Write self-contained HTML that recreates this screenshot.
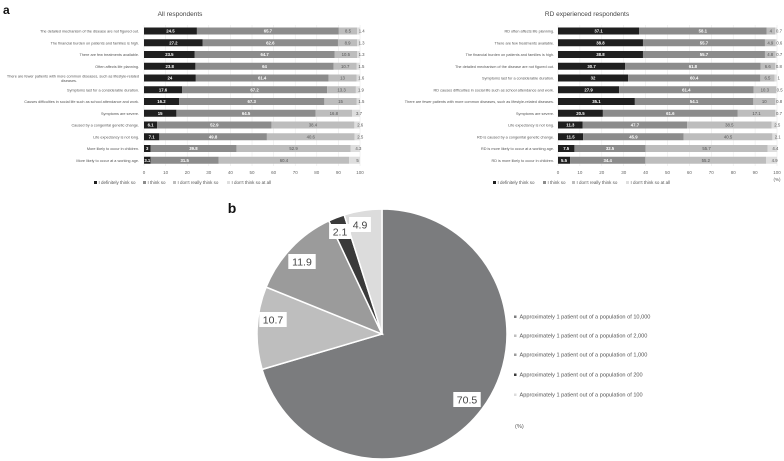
<!DOCTYPE html>
<html><head><meta charset="utf-8"><style>
html,body{margin:0;padding:0;background:#fff;}
svg{display:block;font-family:"Liberation Sans",sans-serif;}
</style></head><body>
<svg id="fig" width="784" height="461" viewBox="0 0 784 461">
<text x="3" y="14" font-size="12" font-weight="bold" fill="#111">a</text>
<text x="180" y="16" font-size="6.5" fill="#444" text-anchor="middle">All respondents</text>
<text x="587" y="16" font-size="6.5" fill="#444" text-anchor="middle">RD experienced respondents</text>
<text x="232" y="213" font-size="14" font-weight="bold" fill="#111" text-anchor="middle">b</text>
<g id="left"></g><g id="right"></g><g id="pie"></g>
</svg>
<script>
const NS="http://www.w3.org/2000/svg";
const leftCats=["The detailed mechanism of the disease are not figured out.","The financial burden on patients and families is high.","There are few treatments available.","Often affects life planning.","There are fewer patients with more common diseases, such as lifestyle-related|diseases.","Symptoms last for a considerable duration.","Causes difficulties in social life such as school attendance and work.","Symptoms are severe.","Caused by a congenital genetic change.","Life expectancy is not long.","More likely to occur in children.","More likely to occur at a working age."];
const leftDef=[24.5,27.2,23.5,23.8,24,17.6,16.2,15,6.1,7.1,3,3.1];
const leftThink=[65.7,62.6,64.7,64,61.4,67.2,67.3,64.5,52.9,49.8,39.8,31.5];
const leftNot=[8.5,8.9,10.5,10.7,13,13.3,15,16.8,38.4,40.6,52.9,60.4];
const leftNone=[1.4,1.3,1.3,1.5,1.6,1.9,1.5,3.7,2.6,2.5,4.3,5];
const rightCats=["RD often affects life planning.","There are few treatments available.","The financial burden on patients and families is high.","The detailed mechanism of the disease are not figured out.","Symptoms last for a considerable duration.","RD causes difficulties in social life such as school attendance and work.","There are fewer patients with more common diseases, such as lifestyle-related diseases.","Symptoms are severe.","Life expectancy is not long.","RD is caused by a congenital genetic change.","RD is more likely to occur at a working age.","RD is more likely to occur in children."];
const rightDef=[37.1,38.8,38.8,30.7,32.0,27.9,35.1,20.5,11.3,11.5,7.5,5.5];
const rightThink=[58.1,55.7,55.7,61.8,60.4,61.4,54.1,61.6,47.7,45.9,32.5,34.4];
const rightNot=[4.0,4.9,4.8,6.6,6.5,10.3,10.0,17.1,38.5,40.5,55.7,55.2];
const rightNone=[0.7,0.6,0.7,0.8,1.0,0.5,0.8,0.7,2.5,2.1,4.4,4.9];
const ticks=[0,10,20,30,40,50,60,70,80,90,100];
const legendLabels=["I definitely think so","I think so","I don't really think so","I don't think so at all"];
const pieLabels=["Approximately 1 patient out of a population of 10,000","Approximately 1 patient out of a population of 2,000","Approximately 1 patient out of a population of 1,000","Approximately 1 patient out of a population of 200","Approximately 1 patient out of a population of 100"];
const pieValues=[70.5,10.7,11.9,2.1,4.9];

const barColors=["#1f1f1f","#8c8c8c","#bdbdbd","#dedede"];
const textColors=["#fff","#fff","#555","#555"];
const pieColors=["#7b7c7e","#bebebe","#9b9b9b","#3a3a3a","#dcdcdc"];

function mk(tag,attrs,parent){const e=document.createElementNS(NS,tag);for(const k in attrs)e.setAttribute(k,attrs[k]);parent.appendChild(e);return e;}

function drawBars(g,cats,series,x0,x1,labelX,legendXs,name){
  const sx=v=>x0+(x1-x0)*v/100;
  const rowY=i=>31+i*11.75;
  ticks.forEach(t=>{
    const l=mk("line",{x1:sx(t),x2:sx(t),y1:25,y2:166,stroke:"#e6e6e6","stroke-width":0.5},g);
    
    
    const tx=mk("text",{x:sx(t),y:174,"font-size":4.5,fill:"#666","text-anchor":"middle"},g);
    tx.textContent=t;
    
    
  });
  cats.forEach((c,i)=>{
    const y=rowY(i);
    const parts=c.split("|");
    parts.forEach((p,j)=>{
      const tx=mk("text",{x:labelX,y:y+1.5+(j-(parts.length-1)/2)*4.5,"font-size":3.8,fill:"#555","text-anchor":parts.length>1&&j==1?"middle":"end"},g);
      if(parts.length>1&&j==1)tx.setAttribute("x",labelX-70);
      tx.textContent=p;
      
      
    });
    let acc=0;
    series.forEach((s,k)=>{
      const v=s[i];
      const r=mk("rect",{x:sx(acc),y:y-3.5,width:Math.max(0,sx(acc+v)-sx(acc)),height:7,fill:barColors[k]},g);
      
      
      const cx=k==3?sx(acc)+ (sx(acc+v)-sx(acc))/2+3:sx(acc+v/2);
      const tx=mk("text",{x:cx,y:y+1.6,"font-size":4.3,fill:textColors[k],"text-anchor":"middle","font-weight":k<2?"bold":"normal"},g);
      tx.textContent=v;
      
      
      acc+=v;
    });
  });
  legendLabels.forEach((l,k)=>{
    const r=mk("rect",{x:legendXs[k],y:181,width:3,height:3,fill:barColors[k]},g);
    
    
    const tx=mk("text",{x:legendXs[k]+4.5,y:184,"font-size":4.5,fill:"#555"},g);
    tx.textContent=l;
    
    
  });
}
drawBars(document.getElementById("left"),leftCats,[leftDef,leftThink,leftNot,leftNone],144,360,139,[94,143,173,227],"left");
drawBars(document.getElementById("right"),rightCats,[rightDef,rightThink,rightNot,rightNone],558,777,554,[493,543,572,626],"right");
const pct=mk("text",{x:777,y:181,"font-size":4.5,fill:"#555","text-anchor":"middle"},document.getElementById("right"));
pct.textContent="(%)";



// pie
const pg=document.getElementById("pie");
const cx=382,cy=334,R=125;
const total=pieValues.reduce((a,b)=>a+b,0);
const labelPos=[[467,400],[273,320],[302,262],[340,232],[360,225]];
let a0=0;
pieValues.forEach((v,i)=>{
  const a1=a0+v/total*2*Math.PI;
  const p=(a)=>[cx+R*Math.sin(a),cy-R*Math.cos(a)];
  const [x0,y0]=p(a0),[x1,y1]=p(a1);
  const large=(a1-a0)>Math.PI?1:0;
  const path=mk("path",{d:`M${cx},${cy} L${x0},${y0} A${R},${R} 0 ${large} 1 ${x1},${y1} Z`,fill:pieColors[i],stroke:"#fff","stroke-width":1.5},pg);
  
  
  a0=a1;
});
pieValues.forEach((v,i)=>{
  const [lx,ly]=labelPos[i];
  const w=String(v).length*5.6+5;
  const r=mk("rect",{x:lx-w/2,y:ly-8,width:w,height:15,fill:"#fff"},pg);
  
  
  const t=mk("text",{x:lx,y:ly+3.5,"font-size":10.5,fill:"#444","text-anchor":"middle"},pg);
  t.textContent=v;
  
  
});
const legYs=[318,337,356,376,396];
pieLabels.forEach((l,i)=>{
  const r=mk("rect",{x:514,y:legYs[i]-2.5,width:2.5,height:2.5,fill:pieColors[i]},pg);
  
  
  const t=mk("text",{x:519.5,y:legYs[i]+0.5,"font-size":5.6,fill:"#555"},pg);
  t.textContent=l;
  
  
});
const pp=mk("text",{x:515,y:428,"font-size":5.6,fill:"#555"},pg);
pp.textContent="(%)";


</script>
</body></html>
